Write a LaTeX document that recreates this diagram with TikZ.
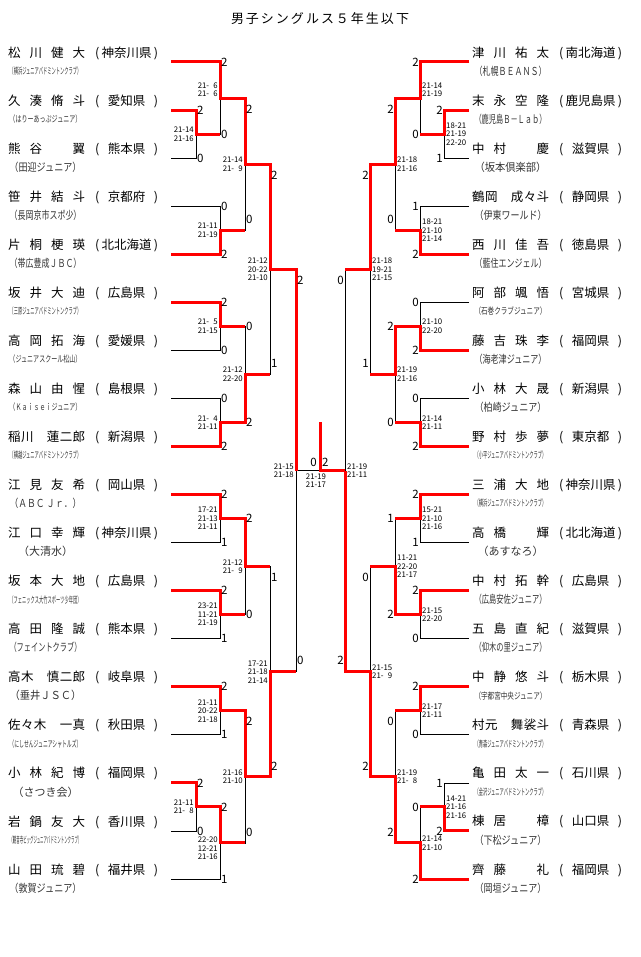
\documentclass[tikz,border=0pt]{standalone}
\usepackage{fontspec}
\setmainfont{Noto Sans CJK JP}
\usepackage{graphicx}
\usetikzlibrary{calc}
\pgfdeclarelayer{bg}
\pgfsetlayers{bg,main}

% club names: squeezed into the cell when too long
\newlength\clubw
\newcommand\club[1]{\settowidth\clubw{\fontsize{11}{11}\selectfont #1}%
  \ifdim\clubw>110pt\resizebox{72pt}{\height}{\fontsize{9}{9}\selectfont #1}%
  \else\ifdim\clubw>72pt\resizebox{72pt}{\height}{\fontsize{11}{11}\selectfont #1}%
  \else\makebox[72pt]{\fontsize{11}{11}\selectfont #1}\fi\fi}
\newcommand\pname[1]{\makebox[77pt][s]{#1}}
\newcommand\pref[1]{\makebox[63pt][s]{(\hfill #1\hfill )}}

% one match: name, top entry, bottom entry, column x, next x, games, games, scores, label offset
\newcommand\bout[9]{%
  \coordinate (#1x) at (#4,0);
  \coordinate (#1n) at (#5,0);
  \coordinate (#1) at ($(#2 -| #1x)!0.5!(#3 -| #1x)$);
  \begin{pgfonlayer}{bg}
    \draw[bline] (#2) -- (#2 -| #1x) -- (#3 -| #1x) -- (#3);
  \end{pgfonlayer}
  \ifnum#6>#7
    \draw[win] (#2) -- (#2 -| #1x) -- (#1) -- (#1 -| #1n);
  \else
    \draw[win] (#3) -- (#3 -| #1x) -- (#1) -- (#1 -| #1n);
  \fi
  \node[games, gside] (#1g1) at ($(#2 -| #1x)+(0,#9)$) {#6};
  \node[games, gside] (#1g2) at ($(#3 -| #1x)+(0,-#9)$) {#7};
  \node[scores, sside] (#1s) at (#1) {#8};
}
\newcommand\sideL{\tikzset{gside/.style={anchor=west, xshift=1pt},
  sside/.style={anchor=east, align=right, xshift=-2pt}}}
\newcommand\sideR{\tikzset{gside/.style={anchor=east, xshift=-1pt},
  sside/.style={anchor=west, align=left, xshift=2pt}}}

\begin{document}
\begin{tikzpicture}[x=1pt, y=-1pt,
    bline/.style={black, line width=0.8pt},
    win/.style={red, line width=3pt},
    games/.style={inner sep=0pt, font=\fontsize{11.5}{11.5}\selectfont},
    scores/.style={inner sep=0pt, font=\fontsize{7.8}{8.5}\selectfont},
    player/.style={anchor=west, inner sep=0pt, font=\fontsize{12.5}{12.5}\selectfont},
    clubname/.style={inner sep=0pt, text=black!80},
    gside/.style={}, sside/.style={}]

  \begin{pgfonlayer}{bg}
    \fill[white] (0,0) rectangle (640,957);
  \end{pgfonlayer}
  \useasboundingbox (0,0) rectangle (640,957);

  \node (title) at (320,19) {\fontsize{13}{13}\selectfont\makebox[178pt][s]{男\hfill 子\hfill シ\hfill ン\hfill グ\hfill ル\hfill ス\hfill ５\hfill 年\hfill 生\hfill 以\hfill 下}};

  % left players
  \foreach \nm/\pf/\cl [count=\i] in {
      {松\hfill 川\hfill 健\hfill 大}/神奈川県/横浜ジュニアバドミントンクラブ,
      {久\hfill 湊\hfill 脩\hfill 斗}/愛知県/はりーあっぷジュニア,
      {熊\hfill 谷\hfill\phantom{一}\hfill 翼}/熊本県/田迎ジュニア,
      {笹\hfill 井\hfill 結\hfill 斗}/京都府/長岡京市スポ少,
      {片\hfill 桐\hfill 梗\hfill 瑛}/北北海道/帯広豊成ＪＢＣ,
      {坂\hfill 井\hfill 大\hfill 迪}/広島県/三原ジュニアバドミントンクラブ,
      {高\hfill 岡\hfill 拓\hfill 海}/愛媛県/ジュニアスクール松山,
      {森\hfill 山\hfill 由\hfill 惺}/島根県/Ｋａｉｓｅｉジュニア,
      {稲\hfill 川\hfill\phantom{一}\hfill 蓮\hfill 二\hfill 郎}/新潟県/横越ジュニアバドミントンクラブ,
      {江\hfill 見\hfill 友\hfill 希}/岡山県/ＡＢＣ Ｊｒ．,
      {江\hfill 口\hfill 幸\hfill 輝}/神奈川県/大清水,
      {坂\hfill 本\hfill 大\hfill 地}/広島県/フェニックス大竹スポーツ少年団,
      {高\hfill 田\hfill 隆\hfill 誠}/熊本県/フェイントクラブ,
      {高\hfill 木\hfill\phantom{一}\hfill 慎\hfill 二\hfill 郎}/岐阜県/垂井ＪＳＣ,
      {佐\hfill 々\hfill 木\hfill\phantom{一}\hfill 一\hfill 真}/秋田県/にしせんジュニアシャトルズ,
      {小\hfill 林\hfill 紀\hfill 博}/福岡県/さつき会,
      {岩\hfill 鍋\hfill 友\hfill 大}/香川県/観音寺ビッグジュニアバドミントンクラブ,
      {山\hfill 田\hfill 琉\hfill 碧}/福井県/敦賀ジュニア} {
    \pgfmathsetmacro\ly{62+48.06*(\i-1)}
    \coordinate (L\i) at (171,\ly);
    \node[player] (ln\i) at (8,{\ly-9}) {\pname{\nm}\hspace{10pt}\pref{\pf}};
    \node[clubname] (lc\i) at (45.5,{\ly+9}) {\club{（\cl）}};
  }

  % right players
  \foreach \nm/\pf/\cl [count=\i] in {
      {津\hfill 川\hfill 祐\hfill 太}/南北海道/札幌ＢＥＡＮＳ,
      {末\hfill 永\hfill 空\hfill 隆}/鹿児島県/鹿児島Ｂ－Ｌａｂ,
      {中\hfill 村\hfill\phantom{一}\hfill 慶}/滋賀県/坂本倶楽部,
      {鶴\hfill 岡\hfill\phantom{一}\hfill 成\hfill 々\hfill 斗}/静岡県/伊東ワールド,
      {西\hfill 川\hfill 佳\hfill 吾}/徳島県/藍住エンジェル,
      {阿\hfill 部\hfill 颯\hfill 悟}/宮城県/石巻クラブジュニア,
      {藤\hfill 吉\hfill 珠\hfill 李}/福岡県/海老津ジュニア,
      {小\hfill 林\hfill 大\hfill 晟}/新潟県/柏崎ジュニア,
      {野\hfill 村\hfill 歩\hfill 夢}/東京都/小平ジュニアバドミントンクラブ,
      {三\hfill 浦\hfill 大\hfill 地}/神奈川県/横浜ジュニアバドミントンクラブ,
      {高\hfill 橋\hfill\phantom{一}\hfill 輝}/北北海道/あすなろ,
      {中\hfill 村\hfill 拓\hfill 幹}/広島県/広島安佐ジュニア,
      {五\hfill 島\hfill 直\hfill 紀}/滋賀県/仰木の里ジュニア,
      {中\hfill 静\hfill 悠\hfill 斗}/栃木県/宇都宮中央ジュニア,
      {村\hfill 元\hfill\phantom{一}\hfill 舞\hfill 裟\hfill 斗}/青森県/青森ジュニアバドミントンクラブ,
      {亀\hfill 田\hfill 太\hfill 一}/石川県/金沢ジュニアバドミントンクラブ,
      {棟\hfill 居\hfill\phantom{一}\hfill 樟}/山口県/下松ジュニア,
      {齊\hfill 藤\hfill\phantom{一}\hfill 礼}/福岡県/岡垣ジュニア} {
    \pgfmathsetmacro\ly{62+48.06*(\i-1)}
    \coordinate (R\i) at (469,\ly);
    \node[player] (rn\i) at (472,{\ly-9}) {\pname{\nm}\hspace{10pt}\pref{\pf}};
    \node[clubname] (rc\i) at (510.5,{\ly+9}) {\club{（\cl）}};
  }

  % left half
  \sideL
  \bout{a1}{L2}{L3}{196}{220}{2}{0}{21-14\\21-16}{0}
  \bout{a2}{L1}{a1}{220}{245}{2}{0}{21-\phantom{0}6\\21-\phantom{0}6\\~\\~}{0}
  \bout{a3}{L4}{L5}{220}{245}{0}{2}{21-11\\21-19}{0}
  \bout{a4}{a2}{a3}{245}{270}{2}{0}{21-14\\21-\phantom{0}9}{11}
  \bout{b1}{L6}{L7}{220}{245}{2}{0}{21-\phantom{0}5\\21-15}{0}
  \bout{b2}{L8}{L9}{220}{245}{0}{2}{21-\phantom{0}4\\21-11}{0}
  \bout{b3}{b1}{b2}{245}{270}{0}{2}{21-12\\22-20}{0}
  \bout{ab}{a4}{b3}{270}{296}{2}{1}{21-12\\20-22\\21-10}{11}
  \bout{c1}{L10}{L11}{220}{245}{2}{1}{17-21\\21-13\\21-11}{0}
  \bout{c2}{L12}{L13}{220}{245}{2}{1}{23-21\\11-21\\21-19}{0}
  \bout{c3}{c1}{c2}{245}{270}{2}{0}{21-12\\21-\phantom{0}9}{0}
  \bout{d1}{L14}{L15}{220}{245}{2}{1}{21-11\\20-22\\21-18}{0}
  \bout{d2}{L16}{L17}{196}{220}{2}{0}{21-11\\21-\phantom{0}8}{0}
  \bout{d3}{d2}{L18}{220}{245}{2}{1}{~\\~\\22-20\\12-21\\21-16}{0}
  \bout{d4}{d1}{d3}{245}{270}{2}{0}{21-16\\21-10}{11}
  \bout{cd}{c3}{d4}{270}{296}{1}{2}{17-21\\21-18\\21-14}{11}
  \bout{lf}{ab}{cd}{296}{296}{2}{0}{21-15\\21-18}{11}

  % right half
  \sideR
  \bout{ra1}{R2}{R3}{444}{420}{2}{1}{18-21\\21-19\\22-20}{0}
  \bout{ra2}{R1}{ra1}{420}{395}{2}{0}{21-14\\21-19\\~\\~}{0}
  \bout{ra3}{R4}{R5}{420}{395}{1}{2}{18-21\\21-10\\21-14}{0}
  \bout{ra4}{ra2}{ra3}{395}{370}{2}{0}{21-18\\21-16}{11}
  \bout{rb1}{R6}{R7}{420}{395}{0}{2}{21-10\\22-20}{0}
  \bout{rb2}{R8}{R9}{420}{395}{0}{2}{21-14\\21-11}{0}
  \bout{rb3}{rb1}{rb2}{395}{370}{2}{0}{21-19\\21-16}{0}
  \bout{rab}{ra4}{rb3}{370}{345}{2}{1}{21-18\\19-21\\21-15}{11}
  \bout{rc1}{R10}{R11}{420}{395}{2}{1}{15-21\\21-10\\21-16}{0}
  \bout{rc2}{R12}{R13}{420}{395}{2}{0}{21-15\\22-20}{0}
  \bout{rc3}{rc1}{rc2}{395}{370}{1}{2}{11-21\\22-20\\21-17}{0}
  \bout{rd1}{R14}{R15}{420}{395}{2}{0}{21-17\\21-11}{0}
  \bout{rd2}{R16}{R17}{444}{420}{1}{2}{14-21\\21-16\\21-16}{0}
  \bout{rd3}{rd2}{R18}{420}{395}{0}{2}{21-14\\21-10}{0}
  \bout{rd4}{rd1}{rd3}{395}{370}{0}{2}{21-19\\21-\phantom{0}8}{11}
  \bout{rcd}{rc3}{rd4}{370}{345}{0}{2}{21-15\\21-\phantom{0}9}{11}
  \bout{rf}{rab}{rcd}{345}{345}{0}{2}{21-19\\21-11}{11}

  % final
  \coordinate (champ) at (320,422);
  \begin{pgfonlayer}{bg}
    \draw[bline] (lf) -- (rf);
  \end{pgfonlayer}
  \draw[win] (rf) -- (rf -| champ) -- (champ);
  \node[games, anchor=east] (fg1) at ($(lf -| champ)+(-3,-8.5)$) {0};
  \node[games, anchor=west] (fg2) at ($(lf -| champ)+(2,-8.5)$) {2};
  \node[scores, anchor=north, align=center] (fs) at ($(lf -| champ)+(-4,3)$) {21-19\\21-17};
\end{tikzpicture}
\end{document}
